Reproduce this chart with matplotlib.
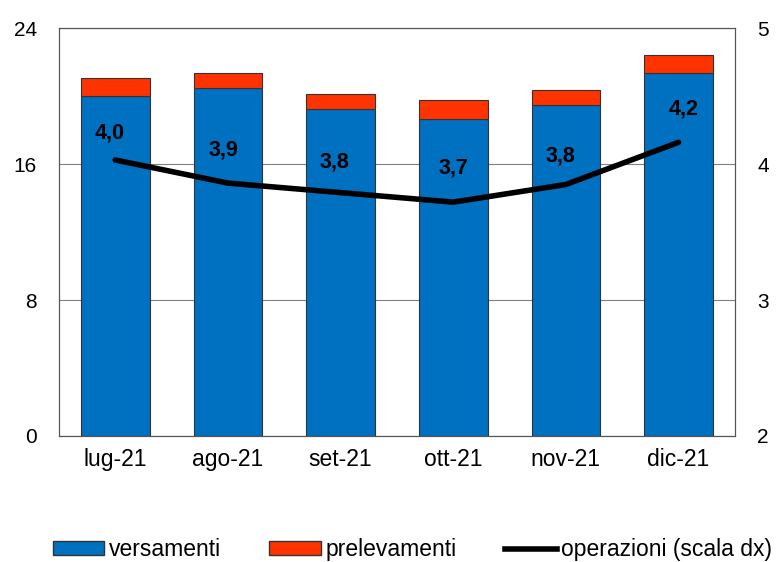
import matplotlib.pyplot as plt
import numpy as np
from matplotlib.lines import Line2D
from matplotlib.patches import Patch

plt.rcParams['font.family'] = ['Liberation Sans', 'DejaVu Sans']

mesi = ['lug-21', 'ago-21', 'set-21', 'ott-21', 'nov-21', 'dic-21']
versamenti = [20.0, 20.5, 19.25, 18.65, 19.5, 21.35]
prelevamenti = [1.05, 0.85, 0.9, 1.1, 0.85, 1.05]
operazioni = [4.03, 3.86, 3.79, 3.72, 3.85, 4.16]
etichette = ['4,0', '3,9', '3,8', '3,7', '3,8', '4,2']

# label placement relative to the line points (pixels)
offset_x = [-6, -5, -6, 0, -6, 5]
offset_y = [27, 33, 31, 34, 28, 33]

blu = '#0070C0'
rosso = '#FF3300'

fig = plt.figure(figsize=(7.81, 5.62), dpi=100)
ax = fig.add_axes([0.0755, 0.2242, 0.8655, 0.7258])
x = np.arange(len(mesi))

ax.set_axisbelow(True)
ax.yaxis.grid(True, color='#808080', linewidth=0.8)
ax.bar(x, versamenti, width=0.61, color=blu, edgecolor='#333333', linewidth=0.8, zorder=2)
ax.bar(x, prelevamenti, width=0.61, bottom=versamenti, color=rosso, edgecolor='#333333', linewidth=0.8, zorder=2)
ax.set_ylim(0, 24)
ax.set_yticks([0, 8, 16, 24])
ax.set_xlim(-0.5, len(mesi) - 0.5)
ax.set_xticks(x)
ax.set_xticklabels(mesi, fontsize=16.5)
ax.tick_params(axis='y', length=0, labelsize=15, pad=16)
ax.tick_params(axis='x', length=0, pad=9)
for s in ax.spines.values():
    s.set_color('#555555')
    s.set_linewidth(0.8)

ax2 = ax.twinx()
ax2.plot(x, operazioni, color='black', linewidth=4, solid_capstyle='round', zorder=3)
for xi, yi, t, dx, dy in zip(x, operazioni, etichette, offset_x, offset_y):
    ax2.annotate(t, (xi, yi), xytext=(dx, dy), textcoords='offset pixels',
                 ha='center', va='center', fontsize=15.5, fontweight='bold')
ax2.set_ylim(2, 5)
ax2.set_yticks([2, 3, 4, 5])
ax2.tick_params(axis='y', length=0, labelsize=15, pad=16)
for s in ax2.spines.values():
    s.set_color('#555555')
    s.set_linewidth(0.8)

handles = [Patch(facecolor=blu, edgecolor='#333333', label='versamenti'),
           Patch(facecolor=rosso, edgecolor='#333333', label='prelevamenti'),
           Line2D([0], [0], color='black', linewidth=4, label='operazioni (scala dx)')]
fig.legend(handles=handles, loc='center', bbox_to_anchor=(0.528, 0.022), ncol=3,
           frameon=False, fontsize=16.5, handlelength=2.26, handleheight=0.55,
           handletextpad=0.2, columnspacing=2.1, borderpad=0)

fig.savefig('out.png', dpi=100)
